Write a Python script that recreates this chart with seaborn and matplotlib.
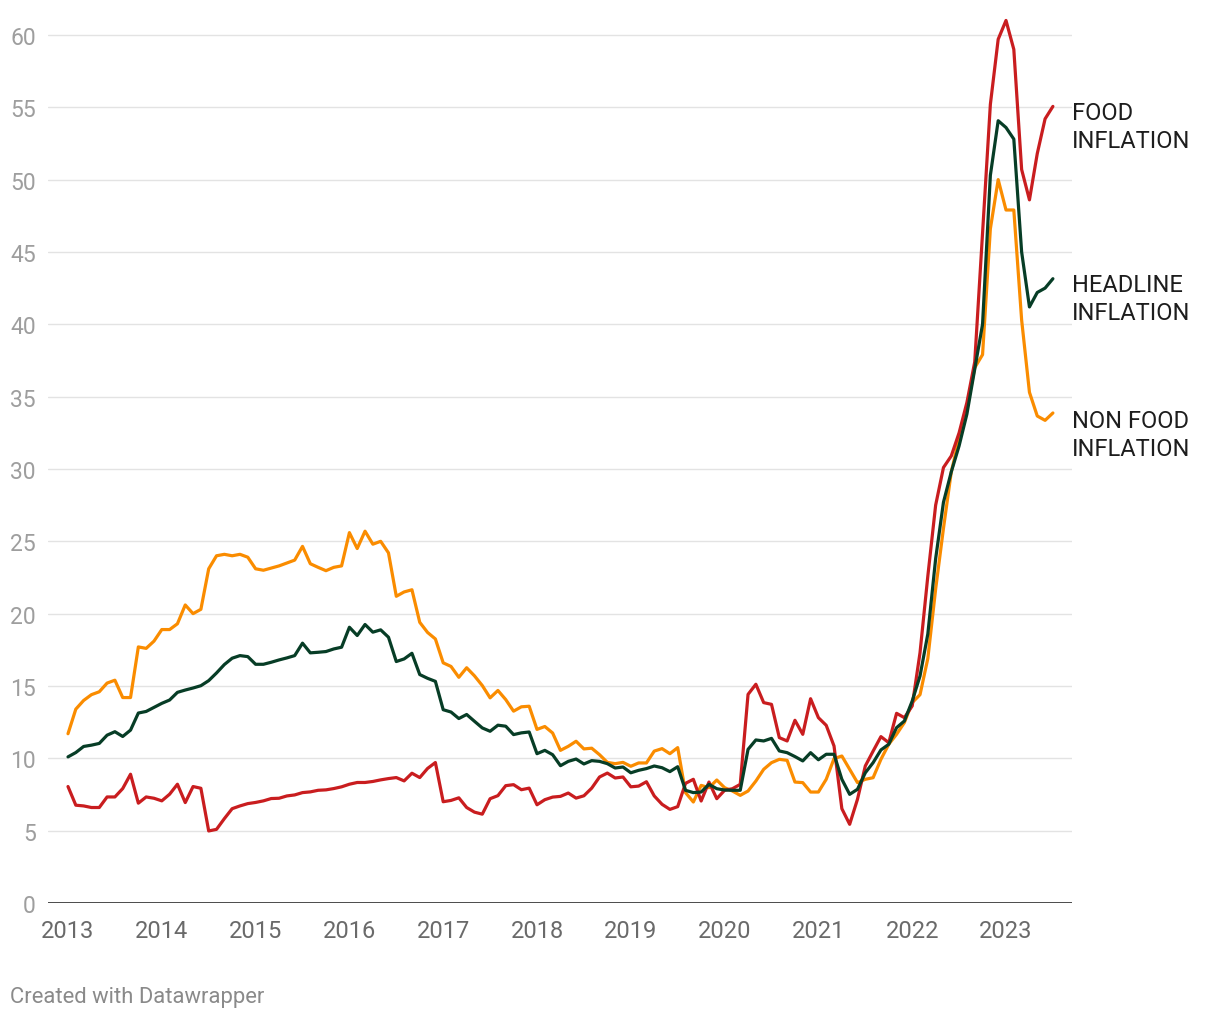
import matplotlib
matplotlib.use("Agg")
import matplotlib.pyplot as plt
import seaborn as sns
import pandas as pd
import numpy as np

# ---------------- data (monthly, Jan 2013 - Jul 2023) ----------------
start_month = "2013-01-01"
end_month = "2023-07-01"

non_food = [
    11.7, 13.4, 14.0, 14.4, 14.6, 15.2, 15.4, 14.2, 14.2, 17.7, 17.6, 18.1,
    18.9, 18.9, 19.3, 20.6, 20.0, 20.3, 23.1, 24.0, 24.1, 24.0, 24.1, 23.9,
    23.1, 23.0, 23.15, 23.3, 23.5, 23.7, 24.65, 23.45, 23.2, 22.97, 23.2, 23.3,
    25.6, 24.5, 25.7, 24.8, 25.0, 24.2, 21.2, 21.5, 21.65, 19.4, 18.7, 18.25,
    16.6, 16.35, 15.6, 16.26, 15.7, 15.03, 14.18, 14.69, 14.06, 13.26, 13.56, 13.6,
    12.0, 12.2, 11.75, 10.55, 10.83, 11.18, 10.65, 10.7, 10.25, 9.72, 9.63, 9.72,
    9.45, 9.68, 9.68, 10.5, 10.67, 10.32, 10.74, 7.63, 6.98, 8.13, 7.97, 8.5,
    7.97, 7.74, 7.44, 7.74, 8.43, 9.24, 9.7, 9.93, 9.86, 8.36, 8.32, 7.67,
    7.67, 8.55, 9.98, 10.16, 9.24, 8.32, 8.55, 8.66, 9.93, 10.97, 11.66, 12.47,
    13.85, 14.4, 16.9, 21.7, 25.9, 29.8, 32.1, 34.2, 37.0, 37.9, 46.6, 50.0,
    47.9, 47.9, 40.3, 35.3, 33.66, 33.36, 33.87,
]

headline = [
    10.1, 10.4, 10.82, 10.91, 11.03, 11.6, 11.84, 11.51, 11.95, 13.13, 13.24, 13.52,
    13.8, 14.03, 14.56, 14.72, 14.86, 15.02, 15.37, 15.9, 16.48, 16.92, 17.1, 17.03,
    16.5, 16.5, 16.64, 16.8, 16.94, 17.1, 17.96, 17.29, 17.33, 17.38, 17.56, 17.68,
    19.06, 18.49, 19.25, 18.72, 18.88, 18.37, 16.69, 16.87, 17.26, 15.79, 15.53, 15.32,
    13.36, 13.2, 12.75, 13.03, 12.56, 12.1, 11.87, 12.29, 12.22, 11.64, 11.76, 11.82,
    10.32, 10.55, 10.25, 9.49, 9.79, 9.95, 9.61, 9.84, 9.79, 9.63, 9.33, 9.4,
    9.0, 9.17, 9.29, 9.47, 9.35, 9.08, 9.42, 7.79, 7.63, 7.67, 8.2, 7.9,
    7.81, 7.79, 7.79, 10.62, 11.27, 11.2, 11.38, 10.51, 10.39, 10.12, 9.82, 10.39,
    9.9, 10.28, 10.28, 8.55, 7.51, 7.86, 9.0, 9.7, 10.58, 10.97, 12.12, 12.58,
    13.96, 15.69, 18.6, 23.8, 27.7, 29.8, 31.6, 33.8, 36.9, 40.0, 50.3, 54.07,
    53.6, 52.8, 45.0, 41.2, 42.2, 42.5, 43.15,
]

food = [
    8.05, 6.76, 6.71, 6.6, 6.6, 7.33, 7.33, 7.91, 8.9, 6.9, 7.33, 7.24,
    7.06, 7.52, 8.21, 6.94, 8.05, 7.93, 4.98, 5.09, 5.83, 6.52, 6.71, 6.87,
    6.95, 7.06, 7.22, 7.24, 7.4, 7.47, 7.63, 7.68, 7.79, 7.82, 7.91, 8.03,
    8.21, 8.33, 8.33, 8.4, 8.51, 8.6, 8.67, 8.44, 8.97, 8.67, 9.3, 9.71,
    7.0, 7.09, 7.27, 6.6, 6.28, 6.14, 7.21, 7.42, 8.11, 8.18, 7.83, 7.94,
    6.79, 7.14, 7.32, 7.37, 7.6, 7.25, 7.41, 7.94, 8.71, 8.98, 8.64, 8.71,
    8.03, 8.08, 8.38, 7.4, 6.82, 6.47, 6.66, 8.27, 8.55, 7.05, 8.36, 7.21,
    7.79, 7.9, 8.2, 14.42, 15.12, 13.85, 13.73, 11.43, 11.2, 12.63, 11.66, 14.12,
    12.81, 12.28, 10.85, 6.52, 5.44, 7.17, 9.47, 10.5, 11.5, 11.08, 13.11, 12.81,
    13.62, 17.3, 22.6, 27.5, 30.1, 30.9, 32.5, 34.6, 37.4, 46.3, 55.2, 59.7,
    61.0, 59.0, 50.7, 48.6, 51.8, 54.2, 55.06,
]

series_names = ["NON FOOD INFLATION", "FOOD INFLATION", "HEADLINE INFLATION"]
series_colors = ["#fa8c00", "#c91d1f", "#073d26"]
year_ticks = list(range(2013, 2024))
y_ticks = list(range(0, 61, 5))

# ---------------- build long table ----------------
months = pd.date_range(start_month, end_month, freq="MS")
xyear = months.year + (months.month - 1) / 12.0
df = pd.concat([
    pd.DataFrame({"x": xyear, "value": non_food, "series": series_names[0]}),
    pd.DataFrame({"x": xyear, "value": food, "series": series_names[1]}),
    pd.DataFrame({"x": xyear, "value": headline, "series": series_names[2]}),
], ignore_index=True)

sns.set_theme(style="white")
plt.rcParams["font.family"] = ["Roboto", "DejaVu Sans"]

W, H = 1220, 1020
fig = plt.figure(figsize=(W / 100, H / 100), dpi=100)
ax = fig.add_axes([48 / W, 116 / H, 1024 / W, 897 / H])

sns.lineplot(data=df, x="x", y="value", hue="series", hue_order=series_names,
             palette=dict(zip(series_names, series_colors)), linewidth=2.3,
             legend=False, ax=ax, zorder=3)
for ln in ax.get_lines():
    ln.set_solid_joinstyle("round")
    ln.set_solid_capstyle("round")

ax.set_xlim(2013 - 20 / 93.8, 2013 + 1004 / 93.8)
ax.set_ylim(0, 62)

for s in ax.spines.values():
    s.set_visible(False)

for v in y_ticks[1:]:
    ax.axhline(v, color="#e3e3e3", linewidth=1.0, zorder=1)
ax.axhline(0, color="#1a1a1a", linewidth=1.1, zorder=2)

ax.set_yticks(y_ticks)
ax.set_yticklabels([str(v) for v in y_ticks])
ax.set_xticks(year_ticks)
ax.set_xticklabels([str(y) for y in year_ticks])
ax.tick_params(axis="y", length=0, pad=8.7, labelsize=16.5, labelcolor="#9e9e9e")
ax.tick_params(axis="x", length=0, pad=11.5, labelsize=17, labelcolor="#6a6a6a")
ax.set_xlabel("")
ax.set_ylabel("")
ax.grid(False)

trans = ax.get_yaxis_transform()
label_pos = {"FOOD INFLATION": 53.65, "HEADLINE INFLATION": 41.8, "NON FOOD INFLATION": 32.4}
label_text = {"FOOD INFLATION": "FOOD\nINFLATION",
              "HEADLINE INFLATION": "HEADLINE\nINFLATION",
              "NON FOOD INFLATION": "NON FOOD\nINFLATION"}
for name in series_names:
    ax.text(1.0, label_pos[name], label_text[name], transform=trans,
            ha="left", va="center", fontsize=17, color="#1d1d1d",
            linespacing=1.27, clip_on=False)

fig.text(10 / W, 1 - 998 / H, "Created with Datawrapper", ha="left", va="center",
         fontsize=15.8, color="#8a8a8a")

fig.savefig("out.png", dpi=100, facecolor="white")
